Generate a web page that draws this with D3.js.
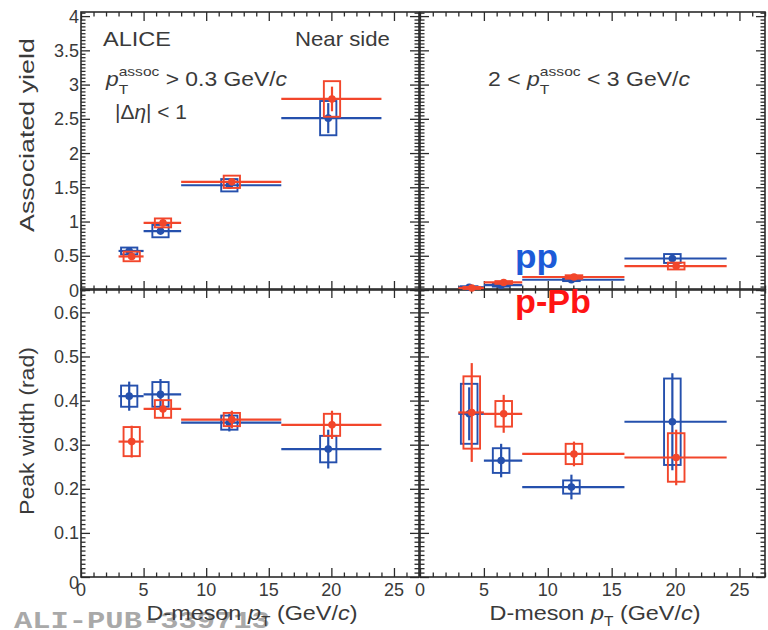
<!DOCTYPE html>
<html><head><meta charset="utf-8">
<script src="https://cdn.jsdelivr.net/npm/d3@7"></script>
<style>body{margin:0;background:#fff}svg{display:block} text{white-space:pre}</style>
</head><body>
<svg id="c" width="768" height="630"></svg>
<script>
// ---------------- data ----------------
const binLo = [3, 5, 8, 16];
const binHi = [5, 8, 16, 24];
const ppX  = [3.85, 6.35, 11.85, 19.75];
const pPbX = [4.05, 6.55, 12.05, 20.05];

// associated yield, pT assoc > 0.3 GeV/c
const ppYieldLow      = [0.57, 0.86, 1.53, 2.51];
const ppYieldLowStat  = [0.03, 0.04, 0.05, 0.22];
const ppYieldLowSyst  = [0.05, 0.09, 0.09, 0.25];
const pPbYieldLow     = [0.49, 0.98, 1.58, 2.79];
const pPbYieldLowStat = [0.03, 0.05, 0.05, 0.18];
const pPbYieldLowSyst = [0.07, 0.065, 0.09, 0.26];

// associated yield, 2 < pT assoc < 3 GeV/c
const ppYieldHigh      = [0.04, 0.07, 0.15, 0.46];
const ppYieldHighStat  = [0.01, 0.01, 0.015, 0.05];
const ppYieldHighSyst  = [0.015, 0.02, 0.02, 0.065];
const pPbYieldHigh     = [0.03, 0.11, 0.19, 0.35];
const pPbYieldHighStat = [0.01, 0.015, 0.02, 0.03];
const pPbYieldHighSyst = [0.015, 0.02, 0.025, 0.05];

// peak width, pT assoc > 0.3 GeV/c
const ppWidthLow      = [0.41, 0.414, 0.35, 0.29];
const ppWidthLowStat  = [0.033, 0.035, 0.02, 0.044];
const ppWidthLowSyst  = [0.024, 0.028, 0.016, 0.03];
const pPbWidthLow     = [0.307, 0.381, 0.357, 0.345];
const pPbWidthLowStat = [0.036, 0.02, 0.02, 0.032];
const pPbWidthLowSyst = [0.033, 0.02, 0.015, 0.025];

// peak width, 2 < pT assoc < 3 GeV/c
const ppWidthHigh      = [0.37, 0.264, 0.204, 0.352];
const ppWidthHighStat  = [0.06, 0.038, 0.028, 0.11];
const ppWidthHighSyst  = [0.068, 0.028, 0.015, 0.098];
const pPbWidthHigh     = [0.373, 0.37, 0.279, 0.271];
const pPbWidthHighStat = [0.112, 0.043, 0.028, 0.063];
const pPbWidthHighSyst = [0.082, 0.029, 0.023, 0.055];

const xTickLabels = [0, 5, 10, 15, 20, 25];
const yTopTickLabels = [0, 0.5, 1, 1.5, 2, 2.5, 3, 3.5, 4];
const yBotTickLabels = [0, 0.1, 0.2, 0.3, 0.4, 0.5, 0.6];

// ---------------- setup ----------------
const FONT = "'Liberation Sans', Arial, Helvetica, sans-serif";
const INK = "#2b2b2b";
const LBL = "#3a3a3a";
const BLUE = "#2550ad";
const RED = "#f2462b";
const BOXHALF = 0.65;

const svg = d3.select("#c");
svg.append("rect").attr("width", 768).attr("height", 630).attr("fill", "#fff");

const xL = d3.scaleLinear().domain([0, 27]).range([81, 419]);
const xR = d3.scaleLinear().domain([0, 27]).range([420, 765]);
const yTop = d3.scaleLinear().domain([0, 4.06]).range([290, 12]);
const yBot = d3.scaleLinear().domain([0, 0.653]).range([577, 289]);

const xMajor = xTickLabels;
const xMinor = d3.range(0, 28).filter(v => v % 5 !== 0);
const yTopMajor = yTopTickLabels;
const yTopMinor = d3.range(0, 82).map(i => +(i * 0.05).toFixed(2)).filter(v => v <= 4.06 && Math.abs(v * 2 - Math.round(v * 2)) > 1e-6);
const yBotMajor = yBotTickLabels;
const yBotMinor = d3.range(0, 66).map(i => +(i * 0.01).toFixed(2)).filter(v => v <= 0.653 && (Math.round(v * 100) % 10) !== 0);

function rich(parent, o) {
  const size = o.size || 20;
  const g = parent.append("g").attr("transform", `translate(${o.x},${o.y})` + (o.rotate ? ` rotate(${o.rotate})` : ""));
  const inner = g.append("g")
    .attr("font-family", o.family || FONT)
    .attr("font-weight", o.weight || "normal")
    .attr("fill", o.fill || LBL);
  let cx = 0;
  o.runs.forEach(r => {
    if (r.stack) {
      let w = 0;
      r.stack.forEach(s => {
        const t = inner.append("text").attr("x", cx).attr("y", s.dy * size)
          .attr("font-size", size * (s.scale || 0.68)).text(s.t);
        w = Math.max(w, t.node().getComputedTextLength());
      });
      cx += w;
    } else {
      const t = inner.append("text").attr("x", cx).attr("y", (r.dy || 0) * size)
        .attr("font-size", size * (r.scale || 1))
        .attr("font-style", r.it ? "italic" : "normal").text(r.t);
      cx += t.node().getComputedTextLength();
    }
  });
  const s = o.target ? o.target / cx : 1;
  const off = o.anchor === "middle" ? -cx * s / 2 : o.anchor === "end" ? -cx * s : 0;
  inner.attr("transform", `translate(${off},0) scale(${s},1)`);
  return g;
}

// watermark (beneath everything)
rich(svg, {x: 14, y: 628, size: 24, target: 256, family: "'Liberation Mono', 'Courier New', monospace",
  weight: "bold", fill: "#a9a9a9", runs: [{t: "ALI-PUB-339713"}]});

function styleAxis(sel) {
  sel.select(".domain").remove();
  sel.selectAll("line").attr("stroke", INK).attr("stroke-width", 1.3);
  sel.selectAll("text").remove();
}

function frame(x, y, yMaj, yMin) {
  const [x0, x1] = x.range();
  const [yb, yt] = y.range();
  const g = svg.append("g");
  const add = (gen, tr, vals, size) => {
    g.append("g").attr("transform", tr)
      .call(gen.tickValues(vals).tickSize(-size).tickFormat(""))
      .call(styleAxis);
  };
  add(d3.axisBottom(x), `translate(0,${yb})`, xMajor, 9);
  add(d3.axisBottom(x), `translate(0,${yb})`, xMinor, 4.5);
  add(d3.axisTop(x), `translate(0,${yt})`, xMajor, 9);
  add(d3.axisTop(x), `translate(0,${yt})`, xMinor, 4.5);
  add(d3.axisLeft(y), `translate(${x0},0)`, yMaj, 9);
  add(d3.axisLeft(y), `translate(${x0},0)`, yMin, 4.5);
  add(d3.axisRight(y), `translate(${x1},0)`, yMaj, 9);
  add(d3.axisRight(y), `translate(${x1},0)`, yMin, 4.5);
  g.append("rect").attr("x", x0).attr("y", yt).attr("width", x1 - x0).attr("height", yb - yt)
    .attr("fill", "none").attr("stroke", INK).attr("stroke-width", 1.6);
}

function series(x, y, px, vals, stat, syst, color) {
  const g = svg.append("g");
  vals.forEach((v, i) => {
    g.append("line").attr("x1", x(binLo[i])).attr("x2", x(binHi[i]))
      .attr("y1", y(v)).attr("y2", y(v)).attr("stroke", color).attr("stroke-width", 2.2);
    g.append("rect").attr("x", x(px[i] - BOXHALF)).attr("width", x(px[i] + BOXHALF) - x(px[i] - BOXHALF))
      .attr("y", y(v + syst[i])).attr("height", y(v - syst[i]) - y(v + syst[i]))
      .attr("fill", "none").attr("stroke", color).attr("stroke-width", 1.9);
    g.append("line").attr("x1", x(px[i])).attr("x2", x(px[i]))
      .attr("y1", y(v - stat[i])).attr("y2", y(v + stat[i])).attr("stroke", color).attr("stroke-width", 2.2);
    g.append("circle").attr("cx", x(px[i])).attr("cy", y(v)).attr("r", 3.8).attr("fill", color);
  });
}

// frames
frame(xL, yTop, yTopMajor, yTopMinor);
frame(xR, yTop, yTopMajor, yTopMinor);
frame(xL, yBot, yBotMajor, yBotMinor);
frame(xR, yBot, yBotMajor, yBotMinor);

// data
series(xL, yTop, ppX, ppYieldLow, ppYieldLowStat, ppYieldLowSyst, BLUE);
series(xL, yTop, pPbX, pPbYieldLow, pPbYieldLowStat, pPbYieldLowSyst, RED);
series(xR, yTop, ppX, ppYieldHigh, ppYieldHighStat, ppYieldHighSyst, BLUE);
series(xR, yTop, pPbX, pPbYieldHigh, pPbYieldHighStat, pPbYieldHighSyst, RED);
series(xL, yBot, ppX, ppWidthLow, ppWidthLowStat, ppWidthLowSyst, BLUE);
series(xL, yBot, pPbX, pPbWidthLow, pPbWidthLowStat, pPbWidthLowSyst, RED);
series(xR, yBot, ppX, ppWidthHigh, ppWidthHighStat, ppWidthHighSyst, BLUE);
series(xR, yBot, pPbX, pPbWidthHigh, pPbWidthHighStat, pPbWidthHighSyst, RED);

// tick labels
const tl = svg.append("g").attr("font-family", FONT).attr("font-size", 18).attr("fill", LBL);
const fmt = d => String(+d.toFixed(2));
yTopTickLabels.forEach(d => tl.append("text").attr("x", 79).attr("y", yTop(d) + 6.5)
  .attr("text-anchor", "end").text(fmt(d)));
yBotTickLabels.forEach(d => tl.append("text").attr("x", 79).attr("y", yBot(d) + 6.5 + (d === 0 ? 5 : 0))
  .attr("text-anchor", "end").text(fmt(d)));
[xL, xR].forEach(x => xTickLabels.forEach(d => tl.append("text").attr("x", x(d)).attr("y", 596)
  .attr("text-anchor", "middle").text(fmt(d))));

// axis titles
rich(svg, {x: 34, y: 135, rotate: -90, anchor: "middle", size: 20, target: 194, runs: [{t: "Associated yield"}]});
rich(svg, {x: 34, y: 431, rotate: -90, anchor: "middle", size: 20, target: 168, runs: [{t: "Peak width (rad)"}]});
const ptTitle = [{t: "D-meson "}, {t: "p", it: true}, {t: "T", dy: 0.3, scale: 0.66}, {t: " (GeV/"}, {t: "c", it: true}, {t: ")"}];
rich(svg, {x: 252, y: 620, anchor: "middle", size: 21, target: 211, runs: ptTitle});
rich(svg, {x: 595, y: 620, anchor: "middle", size: 21, target: 211, runs: ptTitle});

// in-panel texts
rich(svg, {x: 103, y: 46, size: 20, target: 68, runs: [{t: "ALICE"}]});
rich(svg, {x: 390, y: 46, anchor: "end", size: 20, target: 95, runs: [{t: "Near side"}]});
rich(svg, {x: 106, y: 86, size: 20, target: 181, runs: [
  {t: "p", it: true}, {stack: [{t: "assoc", dy: -0.5}, {t: "T", dy: 0.42}]}, {t: " > 0.3 GeV/"}, {t: "c", it: true}]});
rich(svg, {x: 115, y: 119, size: 20, target: 72, runs: [{t: "|Δ"}, {t: "η", it: true}, {t: "| < 1"}]});
rich(svg, {x: 488, y: 86, size: 20, target: 202, runs: [
  {t: "2 < "}, {t: "p", it: true}, {stack: [{t: "assoc", dy: -0.5}, {t: "T", dy: 0.42}]}, {t: " < 3 GeV/"}, {t: "c", it: true}]});

// legend labels
rich(svg, {x: 515, y: 268, size: 34, weight: "bold", fill: "#1d5bd8", target: 43, runs: [{t: "pp"}]});
rich(svg, {x: 515, y: 313, size: 34, weight: "bold", fill: "#ff1414", target: 76, runs: [{t: "p-Pb"}]});
</script>
</body></html>
